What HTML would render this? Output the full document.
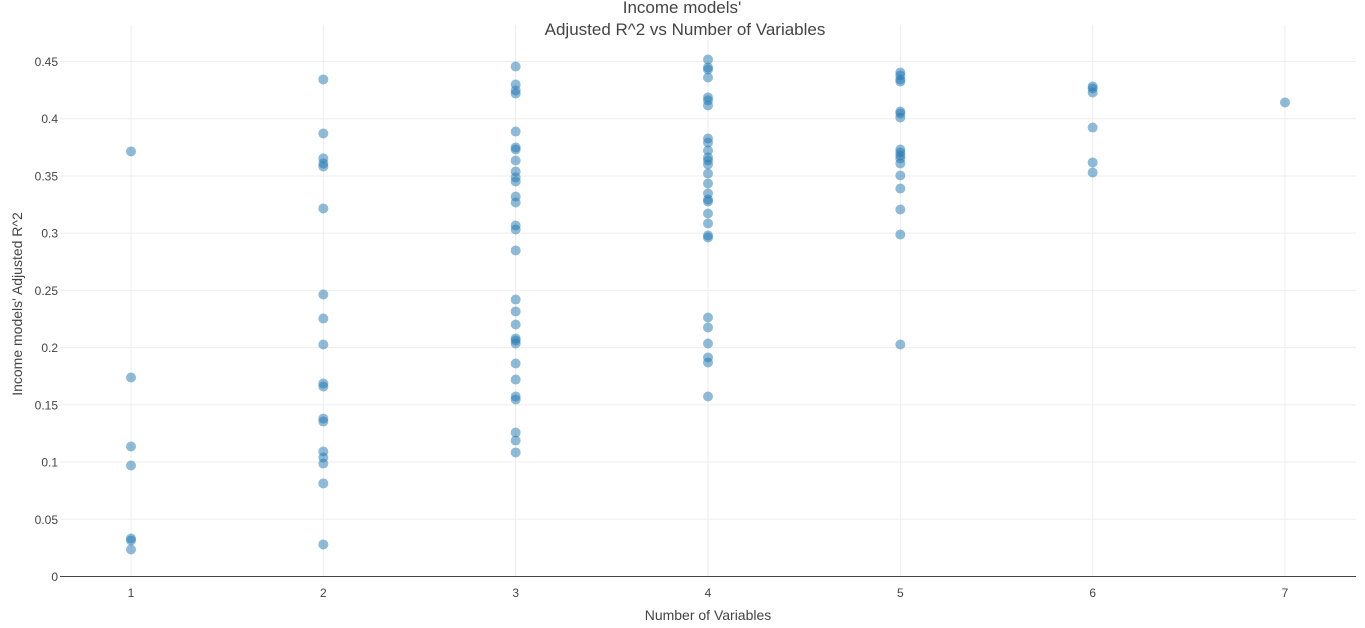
<!DOCTYPE html>
<html><head><meta charset="utf-8">
<style>
body{margin:0;background:#fff;font-family:"Liberation Sans",sans-serif;}
svg text{font-family:"Liberation Sans",sans-serif;}
</style></head>
<body>
<svg id="chart" width="1365" height="623">
<text x="682" y="13" text-anchor="middle" font-size="17" fill="#444">Income models'</text>
<text x="685" y="35" text-anchor="middle" font-size="17" fill="#444">Adjusted R^2 vs Number of Variables</text>
<text x="708" y="620" text-anchor="middle" font-size="14" fill="#444">Number of Variables</text>
<text transform="translate(22,304) rotate(-90)" text-anchor="middle" font-size="14" fill="#444">Income models' Adjusted R^2</text>
<g id="grid"></g><g id="pts"></g><g id="axes"></g>
</svg>
<script>
const xTicks=[1,2,3,4,5,6,7];
const yTicks=[0,0.05,0.1,0.15,0.2,0.25,0.3,0.35,0.4,0.45];
const yTickLabels=["0","0.05","0.1","0.15","0.2","0.25","0.3","0.35","0.4","0.45"];
const vars1=[0.3714,0.1739,0.1136,0.097,0.0332,0.0315,0.0236];
const vars2=[0.4343,0.3871,0.3653,0.3609,0.3583,0.3216,0.2464,0.2254,0.2027,0.1686,0.166,0.138,0.1354,0.1092,0.104,0.0987,0.0813,0.028];
const vars3=[0.4456,0.4299,0.4247,0.422,0.3888,0.3749,0.3731,0.3635,0.3539,0.3487,0.3452,0.332,0.3268,0.3067,0.3032,0.2849,0.242,0.2316,0.2202,0.208,0.2062,0.2036,0.1861,0.1721,0.1573,0.1547,0.1258,0.1188,0.1084];
const vars4=[0.4518,0.4448,0.443,0.436,0.4186,0.416,0.4116,0.3827,0.3792,0.3722,0.3661,0.3635,0.36,0.3521,0.3434,0.3347,0.3294,0.3277,0.3172,0.3085,0.298,0.2962,0.2263,0.2176,0.2036,0.1914,0.187,0.1573];
const vars5=[0.4404,0.4378,0.4343,0.4325,0.4063,0.4046,0.4011,0.3731,0.3705,0.3679,0.3653,0.3609,0.3504,0.339,0.3207,0.2988,0.2027];
const vars6=[0.4282,0.4264,0.4229,0.3923,0.3618,0.353];
const vars7=[0.4142];
const series=[vars1,vars2,vars3,vars4,vars5,vars6,vars7];
const NS="http://www.w3.org/2000/svg";
const L=60,R=1356,T=25,B=576.5;
const xs=v=>131+(v-1)*(1285-131)/6;
const ys=v=>B-v*(B-61.5)/0.45;
function mk(tag,attrs,parent){const e=document.createElementNS(NS,tag);for(const k in attrs)e.setAttribute(k,attrs[k]);parent.appendChild(e);return e;}
const g=document.getElementById('grid'),p=document.getElementById('pts'),a=document.getElementById('axes');
yTicks.forEach((t,i)=>{
 if(t>0){const l=mk('line',{x1:L,x2:R,y1:ys(t),y2:ys(t),stroke:'#eee'},g);
 
 }
 const tx=mk('text',{x:L-2,y:ys(t)+4.5,'text-anchor':'end','font-size':12,fill:'#444'},a);
 tx.textContent=yTickLabels[i];
 
 
});
xTicks.forEach(t=>{
 const l=mk('line',{x1:xs(t),x2:xs(t),y1:T,y2:B,stroke:'#eee'},g);
 
 
 const tx=mk('text',{x:xs(t),y:597,'text-anchor':'middle','font-size':12,fill:'#444'},a);
 tx.textContent=String(t);
 
 
});
const ax=mk('line',{x1:L,x2:R,y1:B,y2:B,stroke:'#444','shape-rendering':'crispEdges'},a);


series.forEach((vals,i)=>{vals.forEach(v=>{
 const c=mk('circle',{cx:xs(xTicks[i]),cy:ys(v),r:5,fill:'rgba(31,119,180,0.5)'},p);
 
 
});});
</script>
</body></html>
